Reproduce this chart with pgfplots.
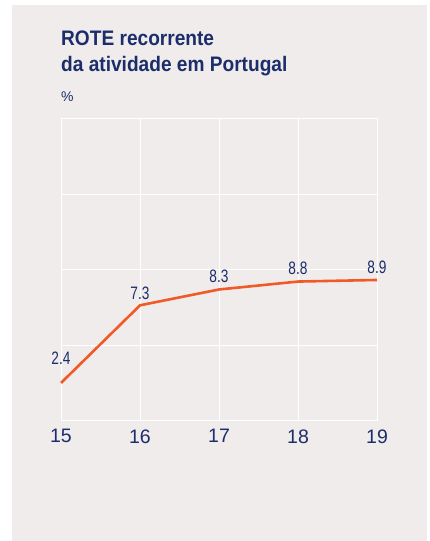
\documentclass[border=0pt]{standalone}
\usepackage{pgfplots}
\pgfplotsset{compat=1.18}
\usepackage{fontspec}
\setmainfont{Liberation Sans}
\newfontfamily\condfont{Liberation Sans}[FakeStretch=0.76]
\newfontfamily\titlefont{Liberation Sans}[FakeStretch=0.91]
\definecolor{navy}{HTML}{1B2D6B}
\definecolor{panel}{HTML}{F0ECEB}
\definecolor{rote}{HTML}{F05A28}

\begin{document}
\begin{tikzpicture}[x=1bp, y=1bp]
% page and grey panel
\fill[white] (0,0) rectangle (429,541);
\fill[panel] (12,0) rectangle (427,536);
% title block
\node[anchor=base west, inner sep=0pt, text=navy,
      font=\titlefont\bfseries\fontsize{21bp}{24bp}\selectfont] at (61,495) {ROTE recorrente};
\node[anchor=base west, inner sep=0pt, text=navy,
      font=\titlefont\bfseries\fontsize{21bp}{24bp}\selectfont] at (61,469) {da atividade em Portugal};
\node[anchor=base west, inner sep=0pt, text=navy,
      font=\fontsize{14bp}{16bp}\selectfont] at (61,439) {\%};

\begin{axis}[
  at={(61bp,120bp)}, anchor=south west,
  scale only axis,
  width=316bp, height=302bp,
  xmin=15, xmax=19,
  ymin=0, ymax=19.06,
  xtick={15,16,17,18,19},
  ytick={0,4.765,9.53,14.295,19.06},
  yticklabels={},
  grid=major,
  major grid style={white, line width=1bp},
  axis line style={white, line width=1bp},
  tick style={draw=none},
  axis background/.style={fill=panel},
  /pgf/number format/assume math mode=true,
  xticklabel style={text=navy, font=\fontsize{19.5bp}{20bp}\selectfont, yshift=-5bp},
  clip=false,
]
\addplot[rote, line width=2.6bp] coordinates {
  (15, 2.4)
  (16, 7.3)
  (17, 8.3)
  (18, 8.8)
  (19, 8.9)
};
\begin{scope}[every node/.style={anchor=base, inner sep=0pt, text=navy,
      font=\condfont\fontsize{18bp}{18bp}\selectfont}]
\node[yshift=18bp] at (axis cs:15, 2.4) {2.4};
\node[yshift=6bp]  at (axis cs:16, 7.3) {7.3};
\node[yshift=7bp]  at (axis cs:17, 8.3) {8.3};
\node[yshift=7bp]  at (axis cs:18, 8.8) {8.8};
\node[yshift=6bp]  at (axis cs:19, 8.9) {8.9};
\end{scope}
\end{axis}
\end{tikzpicture}
\end{document}
